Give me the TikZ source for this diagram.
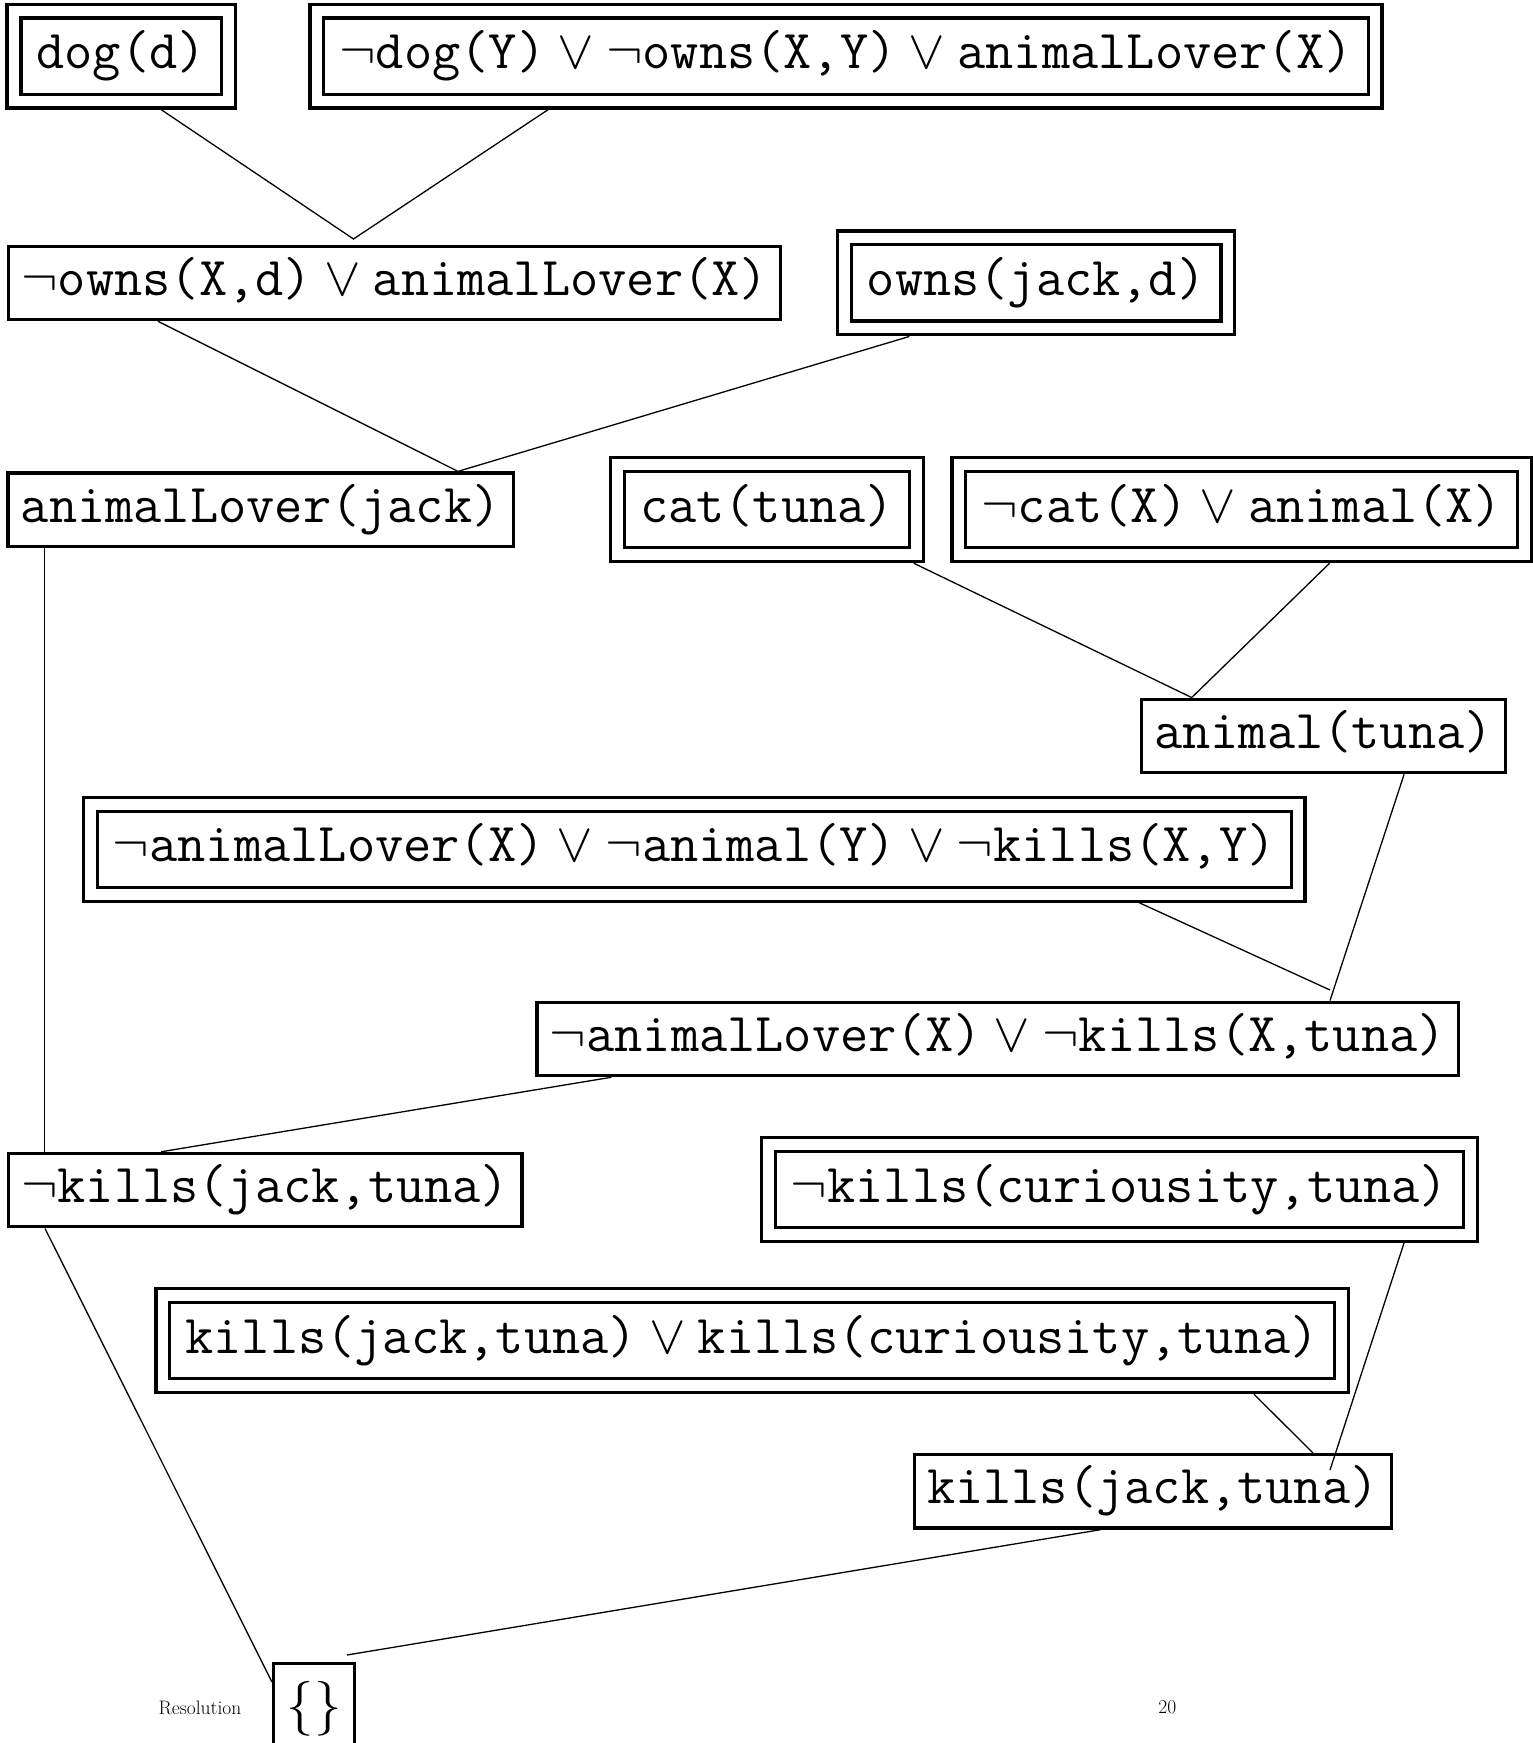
\documentclass[tikz,border=0pt]{standalone}
\usepackage{fontspec}
% scalable symbol font for the large clause text
\DeclareFontFamily{OMS}{cmsy}{\skewchar\font48}
\DeclareFontShape{OMS}{cmsy}{m}{n}{<->cmsy10}{}
\DeclareFontShape{OMS}{cmsy}{b}{n}{<->cmbsy10}{}
\newcommand{\clausefont}{\fontsize{54.8}{60}\selectfont\ttfamily}
\newcommand{\footfont}{\fontsize{19.5}{22}\selectfont\rmfamily}
\tikzset{
  clause/.style={draw, line width=3.3pt, font=\clausefont, inner xsep=12.8pt,
    inner ysep=0pt, minimum height=73.4pt, text height=38pt, text depth=13pt},
  axiom/.style={clause, double, double distance=10.5pt, inner xsep=22.5pt,
    minimum height=90pt, outer sep=8.55pt},
  link/.style={line width=1.3pt},
  footer/.style={font=\footfont, inner sep=0pt}
}
\begin{document}
\begin{tikzpicture}[x=1pt,y=-1pt]
  \useasboundingbox (0,0) rectangle (1533,1743);
  % given clauses and resolvents
  \node[axiom] (dog) at (121.2,56.1) {dog(d)};
  \node[axiom] (ndog) at (846,56.1) {$\neg$dog(Y)${}\vee{}\neg$owns(X,Y)${}\vee{}$animalLover(X)};
  \node[clause] (nowns) at (394.7,282.9) {$\neg$owns(X,d)${}\vee{}$animalLover(X)};
  \node[axiom] (owns) at (1036.1,282.9) {owns(jack,d)};
  \node[clause] (aljack) at (260.7,509.7) {animalLover(jack)};
  \node[axiom] (cat) at (767.1,509.7) {cat(tuna)};
  \node[axiom] (ncat) at (1241.8,509.7) {$\neg$cat(X)${}\vee{}$animal(X)};
  \node[clause] (animal) at (1323.5,735.9) {animal(tuna)};
  \node[axiom] (nalk) at (694.3,849.3) {$\neg$animalLover(X)${}\vee{}\neg$animal(Y)${}\vee{}\neg$kills(X,Y)};
  \node[clause] (nalt) at (997.8,1038.9) {$\neg$animalLover(X)${}\vee{}\neg$kills(X,tuna)};
  \node[clause] (nkjt) at (265.1,1190.1) {$\neg$kills(jack,tuna)};
  \node[axiom] (nkct) at (1119.5,1189.5) {$\neg$kills(curiousity,tuna)};
  \node[axiom] (kk) at (752.1,1340.7) {kills(jack,tuna)${}\vee{}$kills(curiousity,tuna)};
  \node[clause] (kjt) at (1152.8,1491.3) {kills(jack,tuna)};
  \node[clause, inner xsep=13pt, minimum height=92pt] (empty) at (314,1709.6) {$\{\}$};
  % junctions
  \coordinate (m1) at (353.5,239);
  \coordinate (m3) at (1330,990);
  \coordinate (m4) at (1330,1470);
  \coordinate (m5) at (347,1655);
  % resolution steps
  \draw[link] (161.2,0 |- dog.south) -- (m1) -- (548.1,0 |- ndog.south);
  \draw[link] (157.9,0 |- nowns.south) -- (458,0 |- aljack.north) -- (909.4,0 |- owns.south);
  \draw[link] (913.8,0 |- cat.south) -- (1191.7,0 |- animal.north) -- (1329.6,0 |- ncat.south);
  \draw[link] (1404.1,0 |- animal.south) -- (1330,0 |- nalt.north);
  \draw[link] (1139.5,0 |- nalk.south) -- (m3);
  \draw[link] (44.5,0 |- aljack.south) -- (44.5,0 |- nkjt.north);
  \draw[link] (611.4,0 |- nalt.south) -- (161.2,0 |- nkjt.north);
  \draw[link] (1404,0 |- nkct.south) -- (m4);
  \draw[link] (1254,0 |- kk.south) -- (1313,0 |- kjt.north);
  \draw[link] (45,0 |- nkjt.south) -- ([yshift=-20pt]empty.north west);
  \draw[link] (1100.6,0 |- kjt.south) -- (m5);
  % page footer
  \node[footer] (title) at (200,1707.6) {Resolution};
  \node[footer] (page) at (1167.3,1707.6) {20};
\end{tikzpicture}
\end{document}
